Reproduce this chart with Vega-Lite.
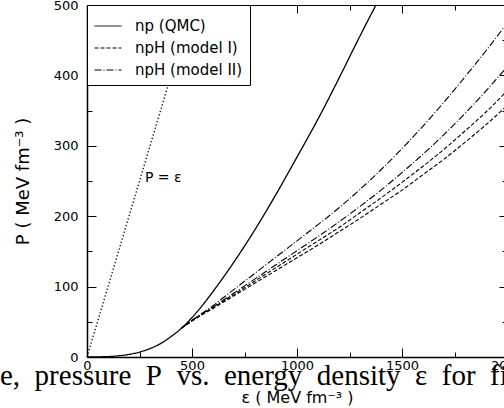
{
  "$schema": "https://vega.github.io/schema/vega-lite/v6.json",
  "width": 420,
  "height": 352,
  "autosize": {"type": "none"},
  "padding": {"left": 87, "top": 5, "right": 0, "bottom": 51},
  "background": "white",
  "title": {
    "text": "e,\u00a0 pressure\u00a0 P\u00a0 vs.\u00a0 energy\u00a0 density\u00a0 ε\u00a0 for\u00a0 fi",
    "orient": "bottom",
    "anchor": "start",
    "frame": "group",
    "font": "Liberation Serif",
    "fontSize": 29,
    "fontWeight": "normal",
    "color": "black",
    "baseline": "alphabetic",
    "offset": -20,
    "dx": -87
  },
  "config": {
    "view": {"stroke": "black", "strokeWidth": 1},
    "font": "DejaVu Sans",
    "axis": {
      "labelFont": "DejaVu Sans",
      "labelFontSize": 13,
      "labelColor": "black",
      "tickColor": "black",
      "tickWidth": 1,
      "domainColor": "black",
      "grid": false,
      "titleFont": "DejaVu Sans",
      "titleFontWeight": "normal",
      "titleColor": "black",
      "labelFlush": false,
      "labelOverlap": false,
      "format": "d"
    }
  },
  "datasets": {
    "curves": [
      {"curve": "np", "model": "np (QMC)", "e": 0, "P": 0},
      {"curve": "np", "model": "np (QMC)", "e": 100, "P": 0.6},
      {"curve": "np", "model": "np (QMC)", "e": 150, "P": 1.7},
      {"curve": "np", "model": "np (QMC)", "e": 200, "P": 3.7},
      {"curve": "np", "model": "np (QMC)", "e": 250, "P": 7},
      {"curve": "np", "model": "np (QMC)", "e": 300, "P": 12},
      {"curve": "np", "model": "np (QMC)", "e": 350, "P": 19},
      {"curve": "np", "model": "np (QMC)", "e": 400, "P": 29},
      {"curve": "np", "model": "np (QMC)", "e": 450, "P": 41},
      {"curve": "np", "model": "np (QMC)", "e": 500, "P": 56},
      {"curve": "np", "model": "np (QMC)", "e": 562, "P": 78},
      {"curve": "np", "model": "np (QMC)", "e": 600, "P": 93},
      {"curve": "np", "model": "np (QMC)", "e": 700, "P": 135},
      {"curve": "np", "model": "np (QMC)", "e": 800, "P": 181},
      {"curve": "np", "model": "np (QMC)", "e": 900, "P": 231},
      {"curve": "np", "model": "np (QMC)", "e": 1000, "P": 284},
      {"curve": "np", "model": "np (QMC)", "e": 1100, "P": 338},
      {"curve": "np", "model": "np (QMC)", "e": 1200, "P": 396},
      {"curve": "np", "model": "np (QMC)", "e": 1300, "P": 456},
      {"curve": "np", "model": "np (QMC)", "e": 1376, "P": 500},

      {"curve": "A", "model": "npH (model II)", "e": 450, "P": 41},
      {"curve": "A", "model": "npH (model II)", "e": 500, "P": 52},
      {"curve": "A", "model": "npH (model II)", "e": 600, "P": 73},
      {"curve": "A", "model": "npH (model II)", "e": 700, "P": 96},
      {"curve": "A", "model": "npH (model II)", "e": 800, "P": 119},
      {"curve": "A", "model": "npH (model II)", "e": 900, "P": 142},
      {"curve": "A", "model": "npH (model II)", "e": 1000, "P": 165},
      {"curve": "A", "model": "npH (model II)", "e": 1100, "P": 188},
      {"curve": "A", "model": "npH (model II)", "e": 1200, "P": 212},
      {"curve": "A", "model": "npH (model II)", "e": 1300, "P": 238},
      {"curve": "A", "model": "npH (model II)", "e": 1400, "P": 266},
      {"curve": "A", "model": "npH (model II)", "e": 1500, "P": 296},
      {"curve": "A", "model": "npH (model II)", "e": 1600, "P": 328},
      {"curve": "A", "model": "npH (model II)", "e": 1700, "P": 362},
      {"curve": "A", "model": "npH (model II)", "e": 1800, "P": 398},
      {"curve": "A", "model": "npH (model II)", "e": 1900, "P": 435},
      {"curve": "A", "model": "npH (model II)", "e": 2000, "P": 474},

      {"curve": "B", "model": "npH (model II)", "e": 450, "P": 41},
      {"curve": "B", "model": "npH (model II)", "e": 500, "P": 52},
      {"curve": "B", "model": "npH (model II)", "e": 600, "P": 71},
      {"curve": "B", "model": "npH (model II)", "e": 700, "P": 91},
      {"curve": "B", "model": "npH (model II)", "e": 800, "P": 111},
      {"curve": "B", "model": "npH (model II)", "e": 900, "P": 131},
      {"curve": "B", "model": "npH (model II)", "e": 1000, "P": 151},
      {"curve": "B", "model": "npH (model II)", "e": 1100, "P": 171},
      {"curve": "B", "model": "npH (model II)", "e": 1200, "P": 192},
      {"curve": "B", "model": "npH (model II)", "e": 1300, "P": 214},
      {"curve": "B", "model": "npH (model II)", "e": 1400, "P": 237},
      {"curve": "B", "model": "npH (model II)", "e": 1500, "P": 262},
      {"curve": "B", "model": "npH (model II)", "e": 1600, "P": 288},
      {"curve": "B", "model": "npH (model II)", "e": 1700, "P": 316},
      {"curve": "B", "model": "npH (model II)", "e": 1800, "P": 346},
      {"curve": "B", "model": "npH (model II)", "e": 1900, "P": 378},
      {"curve": "B", "model": "npH (model II)", "e": 2000, "P": 412},

      {"curve": "C", "model": "npH (model I)", "e": 450, "P": 41},
      {"curve": "C", "model": "npH (model I)", "e": 500, "P": 52},
      {"curve": "C", "model": "npH (model I)", "e": 600, "P": 70},
      {"curve": "C", "model": "npH (model I)", "e": 700, "P": 89},
      {"curve": "C", "model": "npH (model I)", "e": 800, "P": 108},
      {"curve": "C", "model": "npH (model I)", "e": 900, "P": 127},
      {"curve": "C", "model": "npH (model I)", "e": 1000, "P": 146},
      {"curve": "C", "model": "npH (model I)", "e": 1100, "P": 165},
      {"curve": "C", "model": "npH (model I)", "e": 1200, "P": 184},
      {"curve": "C", "model": "npH (model I)", "e": 1300, "P": 205},
      {"curve": "C", "model": "npH (model I)", "e": 1400, "P": 226},
      {"curve": "C", "model": "npH (model I)", "e": 1500, "P": 248},
      {"curve": "C", "model": "npH (model I)", "e": 1600, "P": 271},
      {"curve": "C", "model": "npH (model I)", "e": 1700, "P": 295},
      {"curve": "C", "model": "npH (model I)", "e": 1800, "P": 321},
      {"curve": "C", "model": "npH (model I)", "e": 1900, "P": 348},
      {"curve": "C", "model": "npH (model I)", "e": 2000, "P": 378},

      {"curve": "D", "model": "npH (model I)", "e": 450, "P": 41},
      {"curve": "D", "model": "npH (model I)", "e": 500, "P": 51},
      {"curve": "D", "model": "npH (model I)", "e": 600, "P": 69},
      {"curve": "D", "model": "npH (model I)", "e": 700, "P": 87},
      {"curve": "D", "model": "npH (model I)", "e": 800, "P": 105},
      {"curve": "D", "model": "npH (model I)", "e": 900, "P": 123},
      {"curve": "D", "model": "npH (model I)", "e": 1000, "P": 141},
      {"curve": "D", "model": "npH (model I)", "e": 1100, "P": 159},
      {"curve": "D", "model": "npH (model I)", "e": 1200, "P": 178},
      {"curve": "D", "model": "npH (model I)", "e": 1300, "P": 197},
      {"curve": "D", "model": "npH (model I)", "e": 1400, "P": 217},
      {"curve": "D", "model": "npH (model I)", "e": 1500, "P": 237},
      {"curve": "D", "model": "npH (model I)", "e": 1600, "P": 259},
      {"curve": "D", "model": "npH (model I)", "e": 1700, "P": 281},
      {"curve": "D", "model": "npH (model I)", "e": 1800, "P": 305},
      {"curve": "D", "model": "npH (model I)", "e": 1900, "P": 330},
      {"curve": "D", "model": "npH (model I)", "e": 2000, "P": 357}
    ],
    "diag": [
      {"e": 0, "P": 0},
      {"e": 500, "P": 500}
    ],
    "note": [
      {"e": 276, "P": 254, "label": "P = ε"}
    ]
  },
  "layer": [
    {
      "data": {"name": "curves"},
      "transform": [{"filter": "datum.model === 'np (QMC)'"}],
      "mark": {"type": "line", "color": "black", "strokeWidth": 1.3, "interpolate": "monotone"},
      "encoding": {
        "x": {
          "field": "e", "type": "quantitative",
          "scale": {"domain": [0, 2000], "nice": false, "zero": false},
          "axis": {
            "orient": "bottom",
            "values": [0, 500, 1000, 1500, 2000],
            "format": "d",
            "tickSize": -9,
            "labelPadding": 11,
            "title": "ε ( MeV fm⁻³ )",
            "titleFontSize": 16,
            "titlePadding": 17,
            "domainWidth": 1.5
          }
        },
        "y": {
          "field": "P", "type": "quantitative",
          "scale": {"domain": [0, 500], "nice": false, "zero": false},
          "axis": {
            "orient": "left",
            "values": [0, 100, 200, 300, 400, 500],
            "format": "d",
            "tickSize": -9,
            "labelPadding": 18,
            "title": "P ( MeV fm⁻³ )",
            "titleFontSize": 18,
            "titlePadding": 21,
            "domainWidth": 1.5
          }
        },
        "strokeDash": {
          "field": "model", "type": "nominal",
          "scale": {
            "domain": ["np (QMC)", "npH (model I)", "npH (model II)"],
            "range": [[1, 0], [4, 2], [7, 2, 1, 2]]
          },
          "legend": {
            "title": null,
            "orient": "top-left",
            "offset": 0,
            "padding": 7,
            "strokeColor": "black",
            "fillColor": "white",
            "symbolType": "stroke",
            "symbolSize": 729,
            "symbolStrokeWidth": 1,
            "symbolStrokeColor": "black",
            "labelFont": "DejaVu Sans",
            "labelFontSize": 15,
            "labelColor": "black",
            "labelOffset": 13,
            "rowPadding": 0
          }
        },
        "detail": {"field": "curve"}
      }
    },
    {
      "data": {"name": "diag"},
      "mark": {"type": "line", "color": "black", "strokeWidth": 1.3, "strokeDash": [1.3, 2.2]},
      "encoding": {
        "x": {
          "field": "e", "type": "quantitative",
          "scale": {"domain": [0, 2000], "nice": false, "zero": false},
          "axis": {"orient": "bottom", "values": [250, 750, 1250, 1750], "tickSize": -5, "labels": false, "domain": false, "title": null}
        },
        "y": {
          "field": "P", "type": "quantitative",
          "scale": {"domain": [0, 500], "nice": false, "zero": false},
          "axis": {"orient": "left", "values": [50, 150, 250, 350, 450], "tickSize": -5, "labels": false, "domain": false, "title": null}
        }
      }
    },
    {
      "data": {"name": "note"},
      "mark": {"type": "text", "align": "left", "baseline": "middle", "font": "DejaVu Sans", "fontSize": 14, "color": "black"},
      "encoding": {
        "x": {
          "field": "e", "type": "quantitative",
          "scale": {"domain": [0, 2000], "nice": false, "zero": false},
          "axis": {"orient": "top", "values": [0, 500, 1000, 1500, 2000], "tickSize": -8, "labels": false, "domain": false, "title": null}
        },
        "y": {
          "field": "P", "type": "quantitative",
          "scale": {"domain": [0, 500], "nice": false, "zero": false},
          "axis": {"orient": "right", "values": [0, 100, 200, 300, 400, 500], "tickSize": -8, "labels": false, "domain": false, "title": null}
        },
        "text": {"field": "label"}
      }
    },
    {
      "data": {"name": "curves"},
      "transform": [{"filter": "datum.model !== 'np (QMC)'"}],
      "mark": {"type": "line", "color": "black", "strokeWidth": 1.1, "interpolate": "monotone"},
      "encoding": {
        "x": {
          "field": "e", "type": "quantitative",
          "scale": {"domain": [0, 2000], "nice": false, "zero": false},
          "axis": {"orient": "top", "values": [250, 750, 1250, 1750], "tickSize": -5, "labels": false, "domain": false, "title": null}
        },
        "y": {
          "field": "P", "type": "quantitative",
          "scale": {"domain": [0, 500], "nice": false, "zero": false},
          "axis": {"orient": "right", "values": [50, 150, 250, 350, 450], "tickSize": -5, "labels": false, "domain": false, "title": null}
        },
        "strokeDash": {
          "field": "model", "type": "nominal",
          "scale": {
            "domain": ["np (QMC)", "npH (model I)", "npH (model II)"],
            "range": [[1, 0], [4, 2], [7, 2, 1, 2]]
          },
          "legend": null
        },
        "detail": {"field": "curve"}
      }
    }
  ],
  "resolve": {"axis": {"x": "independent", "y": "independent"}}
}
